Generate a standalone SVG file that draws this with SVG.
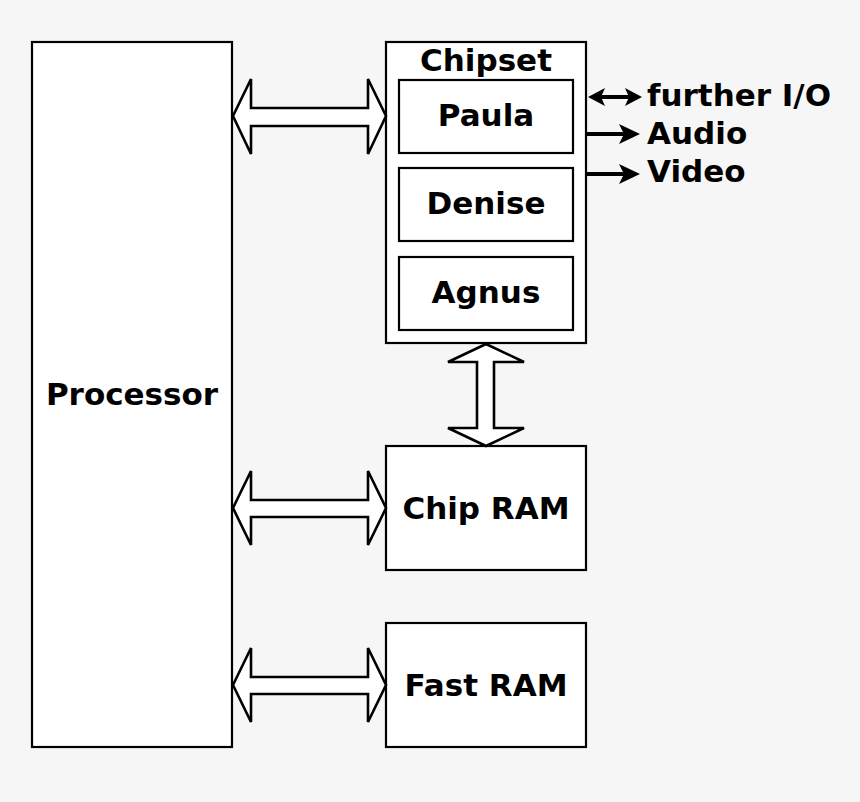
<svg xmlns="http://www.w3.org/2000/svg" width="860" height="802" viewBox="0 0 860 802">
<style>
.box{fill:#fff;stroke:#000;stroke-width:2.2}
.big{fill:#fff;stroke:#000;stroke-width:2.6;stroke-linejoin:miter}
.t{font-family:"DejaVu Sans",sans-serif;font-weight:bold;font-size:31px;fill:#000}
.c{text-anchor:middle}
.ln{stroke:#000;stroke-width:4;fill:none}
.hd{fill:#000;stroke:none}
</style>
<rect x="0" y="0" width="860" height="802" fill="#f6f6f6"/>
<g id="processor"><rect class="box" x="32" y="42" width="200" height="705"/><text class="t c" x="132" y="405">Processor</text></g>
<g id="chipset"><rect class="box" x="386" y="42" width="200" height="301"/><text class="t c" x="486" y="71">Chipset</text></g>
<g id="paula"><rect class="box" x="399" y="80" width="174" height="73"/><text class="t c" x="486" y="126">Paula</text></g>
<g id="denise"><rect class="box" x="399" y="168" width="174" height="73"/><text class="t c" x="486" y="214">Denise</text></g>
<g id="agnus"><rect class="box" x="399" y="257" width="174" height="73"/><text class="t c" x="486" y="303">Agnus</text></g>
<g id="chipram"><rect class="box" x="386" y="446" width="200" height="124"/><text class="t c" x="486" y="519">Chip RAM</text></g>
<g id="fastram"><rect class="box" x="386" y="623" width="200" height="124"/><text class="t c" x="486" y="696">Fast RAM</text></g>
<g id="labels">
<text class="t" x="647" y="106">further I/O</text>
<text class="t" x="647" y="144">Audio</text>
<text class="t" x="647" y="182">Video</text>
</g>
<g id="connectors">
<path class="big" d="M233,116 L251,79 L251,108 L368,108 L368,79 L386,116 L368,154 L368,126 L251,126 L251,154 Z"/>
<path class="big" d="M233,508 L251,471 L251,500 L368,500 L368,471 L386,508 L368,545 L368,517 L251,517 L251,545 Z"/>
<path class="big" d="M233,685 L251,648 L251,677 L368,677 L368,648 L386,685 L368,722 L368,694 L251,694 L251,722 Z"/>
<path class="big" d="M486,344 L524,362 L494,362 L494,428 L524,428 L486,446 L448,428 L477,428 L477,362 L448,362 Z"/>
<line class="ln" x1="598" y1="97" x2="632" y2="97"/>
<path class="hd" d="M588,97 L605,88 L601,97 L605,106 Z"/>
<path class="hd" d="M642,97 L625,88 L629,97 L625,106 Z"/>
<line class="ln" x1="587" y1="134" x2="628" y2="134"/>
<path class="hd" d="M640,134 L619,124 L624,134 L619,144 Z"/>
<line class="ln" x1="587" y1="174" x2="628" y2="174"/>
<path class="hd" d="M640,174 L619,164 L624,174 L619,184 Z"/>
</g>
</svg>
